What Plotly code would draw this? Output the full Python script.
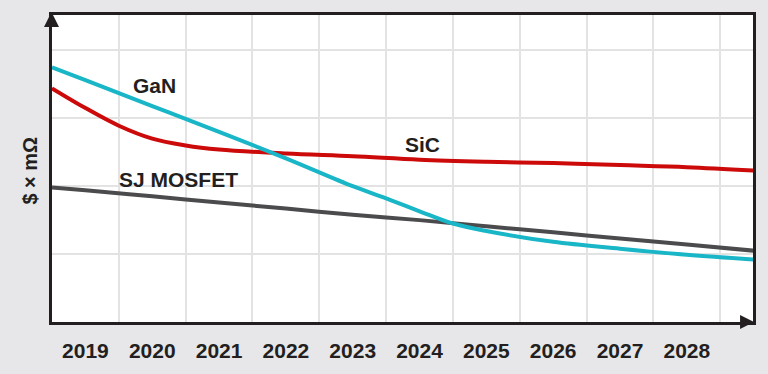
import plotly.graph_objects as go

# ---- data ----
years_tick = [2019, 2020, 2021, 2022, 2023, 2024, 2025, 2026, 2027, 2028]
tick_labels = [str(y) for y in years_tick]

gan_x = [2018.5, 2019, 2020, 2021, 2022, 2023, 2023.5, 2024, 2024.5, 2025, 2026, 2027, 2028, 2029]
gan_y = [3.75, 3.56, 3.18, 2.80, 2.41, 2.00, 1.82, 1.63, 1.45, 1.34, 1.18, 1.08, 0.99, 0.92]

sic_x = [2018.5, 2019, 2019.5, 2020, 2020.5, 2021, 2022, 2023, 2024, 2025, 2026, 2027, 2028, 2029]
sic_y = [3.44, 3.15, 2.89, 2.70, 2.60, 2.54, 2.48, 2.44, 2.39, 2.36, 2.34, 2.31, 2.28, 2.23]

sj_x = [2018.5, 2019, 2020, 2021, 2022, 2023, 2024, 2025, 2026, 2027, 2028, 2029]
sj_y = [1.98, 1.94, 1.85, 1.76, 1.67, 1.58, 1.50, 1.41, 1.32, 1.23, 1.14, 1.05]

minor_grid_x = [2019.5, 2020.5, 2021.5, 2022.5, 2023.5, 2024.5, 2025.5, 2026.5, 2027.5, 2028.5]

CYAN = "#19b6c7"
RED = "#cc0a0a"
GRAY = "#4b4b4d"
DARK = "#231f20"
BG = "#e7e7e9"
FONT = "Liberation Sans, Arial, sans-serif"

fig = go.Figure()
fig.add_trace(go.Scatter(x=sj_x, y=sj_y, mode="lines",
                         line=dict(color=GRAY, width=4, shape="spline"), name="SJ MOSFET"))
fig.add_trace(go.Scatter(x=sic_x, y=sic_y, mode="lines",
                         line=dict(color=RED, width=4, shape="spline"), name="SiC"))
fig.add_trace(go.Scatter(x=gan_x, y=gan_y, mode="lines",
                         line=dict(color=CYAN, width=4, shape="spline"), name="GaN"))

# line labels
for txt, xx, yy in [("GaN", 2020.04, 3.48), ("SiC", 2024.04, 2.61), ("SJ MOSFET", 2020.4, 2.10)]:
    fig.add_annotation(x=xx, y=yy, text="<b>%s</b>" % txt, showarrow=False,
                       font=dict(family=FONT, size=21, color=DARK),
                       xanchor="center", yanchor="middle")

# y axis title
fig.add_annotation(xref="paper", yref="paper", x=-0.031, y=0.494, text="<b>$ × mΩ</b>",
                   textangle=-90, showarrow=False, xanchor="center", yanchor="middle",
                   font=dict(family=FONT, size=20, color=DARK))

# arrow heads
W, H = 703.0, 310.0
def px(x):
    return (x - 52) / W
def py(y):
    return (325 - y) / H

fig.add_shape(type="path", xref="paper", yref="paper",
              path="M %f %f L %f %f L %f %f Z" % (px(44), py(27), px(51.5), py(12), px(59), py(27)),
              fillcolor=DARK, line=dict(width=0))
fig.add_shape(type="path", xref="paper", yref="paper",
              path="M %f %f L %f %f L %f %f Z" % (px(742), py(318), px(756), py(325), px(742), py(332)),
              fillcolor=DARK, line=dict(width=0))

fig.update_layout(
    width=768, height=374,
    margin=dict(l=52, r=13, t=15, b=49),
    paper_bgcolor=BG, plot_bgcolor="white",
    showlegend=False, hovermode=False,
    font=dict(family=FONT, color=DARK),
)
fig.update_xaxes(
    range=[2018.5, 2028.99],
    tickmode="array", tickvals=years_tick, ticktext=["<b>%s</b>" % t for t in tick_labels],
    tickfont=dict(family=FONT, size=21, color=DARK),
    showgrid=False, ticks="", ticklabelstandoff=8,
    minor=dict(tickmode="array", tickvals=minor_grid_x, showgrid=True,
               gridcolor="#e3e3e3", gridwidth=2, ticks=""),
    showline=True, linecolor=DARK, linewidth=3, mirror=True, zeroline=False,
)
fig.update_yaxes(
    range=[0, 4.52], dtick=1, tick0=0, showticklabels=False, ticks="",
    showgrid=True, gridcolor="#e3e3e3", gridwidth=2,
    showline=True, linecolor=DARK, linewidth=3, mirror=True, zeroline=False,
)

fig.write_html("out.html", config={"displayModeBar": False, "staticPlot": True},
               post_script="document.body.style.margin='0';document.body.style.padding='0';document.body.style.overflow='hidden';")
